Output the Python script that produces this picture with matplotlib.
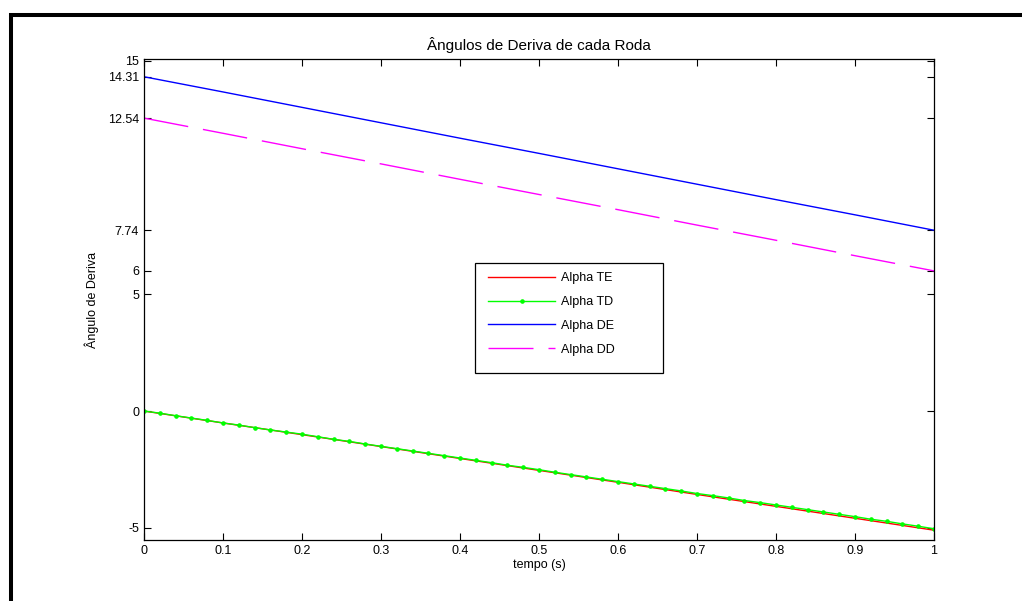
import matplotlib
matplotlib.use("Agg")
import matplotlib.pyplot as plt
from matplotlib.lines import Line2D
from matplotlib.patches import Rectangle

plt.rcParams['font.family'] = ['Liberation Sans', 'DejaVu Sans']
plt.rcParams['lines.scale_dashes'] = False

# amostras finas (marcadores da roda TD)
t_fine = [0.00, 0.02, 0.04, 0.06, 0.08, 0.10, 0.12, 0.14, 0.16, 0.18,
          0.20, 0.22, 0.24, 0.26, 0.28, 0.30, 0.32, 0.34, 0.36, 0.38,
          0.40, 0.42, 0.44, 0.46, 0.48, 0.50, 0.52, 0.54, 0.56, 0.58,
          0.60, 0.62, 0.64, 0.66, 0.68, 0.70, 0.72, 0.74, 0.76, 0.78,
          0.80, 0.82, 0.84, 0.86, 0.88, 0.90, 0.92, 0.94, 0.96, 0.98, 1.00]
alpha_td = [0.00, -0.09, -0.20, -0.30, -0.40, -0.51, -0.60, -0.71, -0.81, -0.90,
            -0.99, -1.10, -1.21, -1.30, -1.41, -1.51, -1.61, -1.71, -1.81, -1.91,
            -2.01, -2.11, -2.21, -2.32, -2.41, -2.51, -2.62, -2.72, -2.82, -2.92,
            -3.02, -3.12, -3.22, -3.32, -3.42, -3.53, -3.62, -3.72, -3.83, -3.92,
            -4.02, -4.12, -4.22, -4.32, -4.42, -4.52, -4.63, -4.72, -4.83, -4.93, -5.04]

t = [0.0, 0.1, 0.2, 0.3, 0.4, 0.5, 0.6, 0.7, 0.8, 0.9, 1.0]
alpha_te = [0.00, -0.51, -1.01, -1.52, -2.03, -2.54, -3.05, -3.57, -4.08, -4.59, -5.10]
alpha_de = [14.31, 13.66, 13.00, 12.34, 11.68, 11.03, 10.37, 9.71, 9.05, 8.40, 7.74]
alpha_dd = [12.54, 11.89, 11.23, 10.58, 9.92, 9.27, 8.62, 7.96, 7.31, 6.65, 6.00]

yticks = [-5, 0, 5, 6, 7.74, 12.54, 14.31, 15]
ytick_labels = ['-5', '0', '5', '6', '7.74', '12.54', '14.31', '15']
xticks = [0, 0.1, 0.2, 0.3, 0.4, 0.5, 0.6, 0.7, 0.8, 0.9, 1]
xtick_labels = ['0', '0.1', '0.2', '0.3', '0.4', '0.5', '0.6', '0.7', '0.8', '0.9', '1']

fig = plt.figure(figsize=(10.22, 6.01), dpi=100)
ax = fig.add_axes([144 / 1022, 61 / 601, 790 / 1022, 481 / 601])

ax.plot(t, alpha_te, color=(1, 0, 0), lw=1, label='Alpha TE')
ax.plot(t_fine, alpha_td, color=(0, 1, 0), lw=1, marker='o', ms=2.3,
        mec=(0, 1, 0), label='Alpha TD')
ax.plot(t, alpha_de, color=(0, 0, 1), lw=1, label='Alpha DE')
# tracejado: ~45 px cheio, ~15 px vazio (em pontos)
ax.plot(t, alpha_dd, color=(1, 0, 1), lw=1, dashes=(32.4, 10.8), label='Alpha DD')

ax.set_xlim(0, 1)
ax.set_ylim(-5.52, 15.07)
ax.set_xticks(xticks)
ax.set_xticklabels(xtick_labels)
ax.set_yticks(yticks)
ax.set_yticklabels(ytick_labels)
ax.tick_params(direction='in', length=5, width=0.8, labelsize=9, pad=3.5,
               top=True, right=True, colors='black')
for s in ax.spines.values():
    s.set_linewidth(0.9)

ax.text(0.5, 1 + 14 / 481, 'Ângulos de Deriva de cada Roda', transform=ax.transAxes,
        ha='center', va='center', fontsize=11)
ax.set_xlabel('tempo (s)', fontsize=9, va='center')
ax.xaxis.set_label_coords(0.5, -25 / 481)
ax.set_ylabel('Ângulo de Deriva', fontsize=9, va='center')
ax.yaxis.set_label_coords(-52 / 790, 0.5)

# caixa da legenda ao estilo MATLAB
ax.add_patch(Rectangle((331 / 790, 167 / 481), 188 / 790, 110 / 481,
                       transform=ax.transAxes, facecolor='white',
                       edgecolor='black', lw=0.9, zorder=4))
leg = ax.legend(loc='upper left', bbox_to_anchor=(344 / 790, 268 / 481),
                frameon=False, fontsize=9, numpoints=1, handlelength=5.36,
                handletextpad=0.5, labelspacing=0.95, borderpad=0,
                borderaxespad=0)
leg.set_zorder(5)

# moldura preta da figura
fig.add_artist(Line2D([10.5 / 1022, 10.5 / 1022], [0, 1 - 12.7 / 601],
                      color='black', lw=2.9, solid_capstyle='butt'))
fig.add_artist(Line2D([8.5 / 1022, 1], [1 - 14.7 / 601, 1 - 14.7 / 601],
                      color='black', lw=2.9, solid_capstyle='butt'))

fig.savefig('out.png', dpi=100)
